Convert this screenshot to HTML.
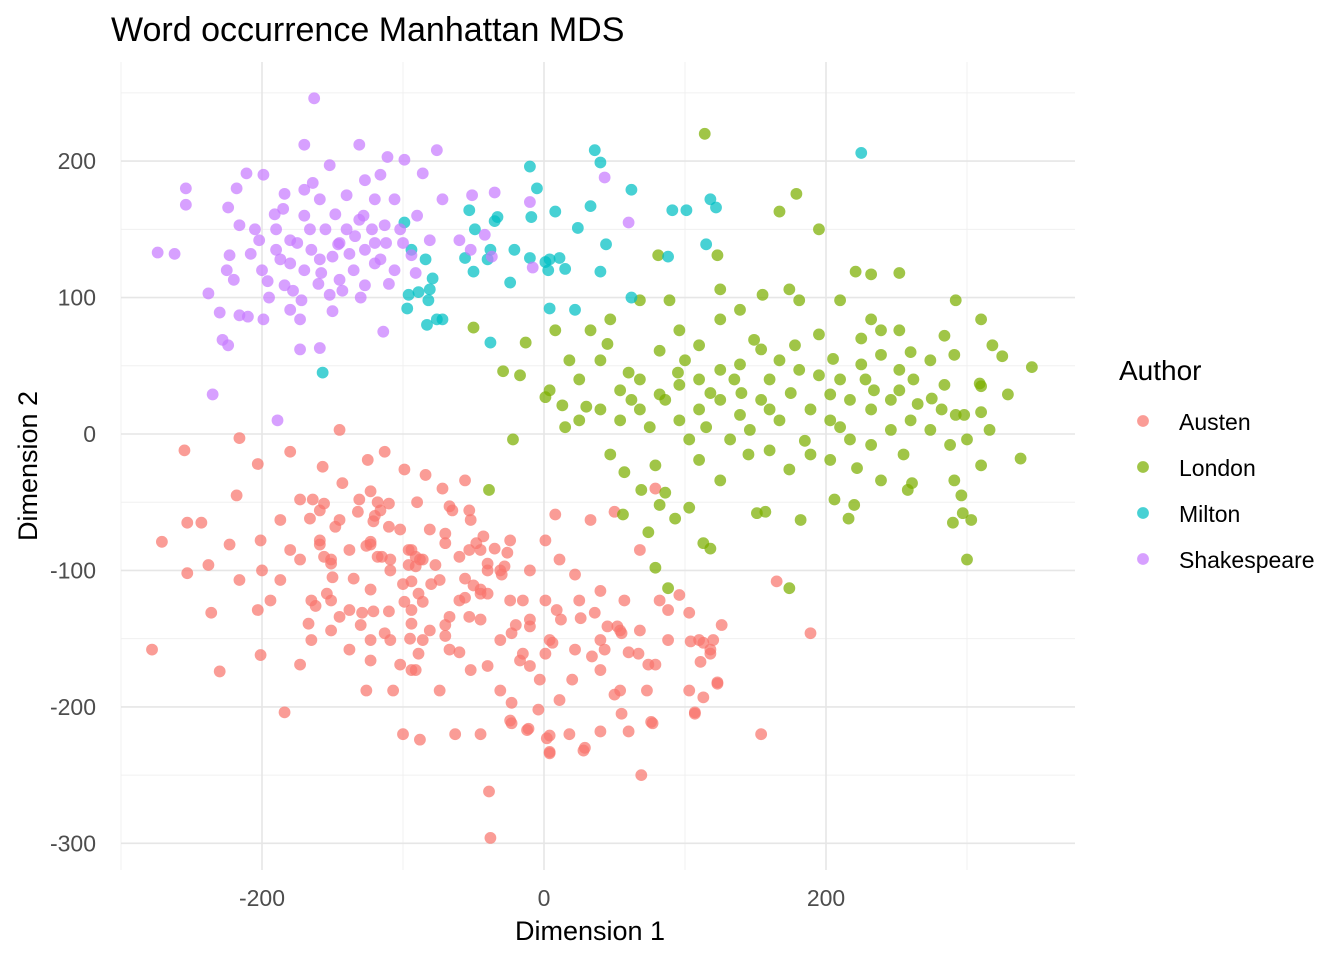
<!DOCTYPE html>
<html><head><meta charset="utf-8"><style>
html,body{margin:0;padding:0;background:#fff;}
svg{display:block;font-family:"Liberation Sans",Arial,sans-serif;}
</style></head><body>
<svg id="chart" width="1344" height="960" viewBox="0 0 1344 960" xmlns="http://www.w3.org/2000/svg">
<rect width="1344" height="960" fill="#fff"/>
<g id="grid"></g>
<g id="points"></g>
<g id="axes"></g>
<text x="111" y="41" font-size="34" fill="#000">Word occurrence Manhattan MDS</text>
<text x="590" y="940" font-size="27" text-anchor="middle" fill="#000">Dimension 1</text>
<text transform="translate(37,466) rotate(-90)" font-size="27" text-anchor="middle" fill="#000">Dimension 2</text>
<g id="legend">
<text x="1119" y="380" font-size="28" fill="#000">Author</text>
</g>
</svg>
<script>
const xTicks = [-200, 0, 200];
const yTicks = [200, 100, 0, -100, -200, -300];
const xMinor = [-300, -100, 100, 300];
const yMinor = [250, 150, 50, -50, -150, -250];
const authors = ["Austen", "London", "Milton", "Shakespeare"];
const colors = ["#F8766D", "#7CAE00", "#00BFC4", "#C77CFF"];

const shakespeare = [[-163,246],[-274,133],[-262,132],[-254,180],[-254,168],[-238,103],[-235,29],[-189,10],[-230,89],[-228,69],[-224,65],[-218,180],[-211,191],[-224,166],[-216,153],[-223,131],[-220,113],[-216,87],[-210,86],[-199,84],[-202,142],[-199,190],[-191,161],[-184,176],[-180,142],[-187,128],[-184,109],[-180,91],[-173,84],[-170,212],[-164,184],[-159,172],[-166,150],[-159,128],[-170,120],[-173,62],[-159,63],[-152,197],[-148,161],[-146,139],[-145,113],[-152,102],[-131,212],[-127,186],[-131,157],[-127,135],[-127,109],[-120,172],[-116,190],[-113,153],[-116,128],[-114,75],[-111,203],[-99,201],[-106,172],[-102,150],[-94,131],[-91,118],[-86,191],[-76,208],[-81,142],[-72,172],[-60,142],[-51,175],[-35,177],[-37,130],[-42,146],[-52,135],[-10,170],[-8,122],[43,188],[60,155],[-170,179],[-190,150],[-150,130],[-140,150],[-120,140],[-200,120],[-160,110],[-130,100],[-110,110],[-180,125],[-170,160],[-140,175],[-100,140],[-90,160],[-205,150],[-150,90],[-195,100],[-225,120],[-135,120],[-145,140],[-175,140],[-155,150],[-120,125],[-190,135],[-165,135],[-138,132],[-122,150],[-158,118],[-178,105],[-208,132],[-185,165],[-112,140],[-143,105],[-128,160],[-196,112],[-172,98],[-106,120],[-134,145]];
const milton = [[36,208],[40,199],[-10,196],[-5,180],[8,163],[-9,159],[-33,159],[-35,156],[-49,150],[-53,164],[33,167],[24,151],[44,139],[62,179],[91,164],[101,164],[118,172],[122,166],[115,139],[88,130],[62,100],[22,91],[4,92],[-10,129],[1,126],[4,128],[11,129],[15,121],[40,119],[3,120],[-24,111],[-21,135],[-50,119],[-38,135],[-40,128],[-99,155],[-94,135],[-96,102],[-89,104],[-81,106],[-82,98],[-83,80],[-72,84],[-76,84],[-84,128],[-79,114],[-97,92],[-38,67],[-157,45],[225,206],[-56,129]];
const london = [[114,220],[179,176],[167,163],[195,150],[81,131],[123,131],[221,119],[232,117],[252,118],[-50,78],[-29,46],[-22,-4],[-39,-41],[-13,67],[-17,43],[4,32],[13,21],[40,18],[54,32],[68,40],[82,61],[96,76],[110,65],[125,84],[139,91],[155,102],[174,106],[181,98],[210,98],[232,84],[239,76],[252,76],[284,72],[292,98],[310,84],[318,65],[325,57],[346,49],[329,29],[310,35],[310,16],[292,14],[282,18],[275,26],[262,40],[252,47],[239,58],[225,51],[210,40],[195,43],[181,47],[167,54],[154,62],[139,51],[125,47],[110,40],[96,36],[82,29],[68,18],[54,10],[47,-15],[57,-28],[69,-41],[79,-23],[86,-43],[82,-52],[74,-72],[79,-98],[88,-113],[56,-59],[93,-62],[103,-54],[113,-80],[118,-84],[151,-58],[157,-57],[182,-63],[174,-113],[216,-62],[206,-48],[220,-52],[239,-34],[258,-41],[261,-36],[290,-65],[303,-63],[297,-58],[296,-45],[291,-34],[300,-92],[310,-23],[300,-4],[316,3],[338,-18],[125,-34],[110,-19],[103,-4],[132,-4],[146,3],[160,-12],[174,-26],[189,-15],[203,-19],[217,-4],[232,-8],[246,3],[260,10],[274,3],[288,-8],[189,18],[203,10],[167,10],[154,25],[139,14],[125,25],[110,18],[96,10],[160,40],[217,25],[232,18],[246,25],[40,54],[25,40],[18,54],[8,76],[33,76],[68,98],[47,84],[89,98],[125,106],[1,27],[25,10],[86,25],[100,54],[149,69],[195,73],[274,54],[291,58],[284,36],[298,14],[309,37],[203,29],[252,32],[234,32],[175,30],[140,30],[260,60],[225,70],[60,45],[115,5],[185,-5],[205,55],[30,20],[75,5],[118,30],[95,45],[145,-15],[210,5],[228,40],[265,22],[178,65],[62,25],[15,5],[255,-15],[222,-25],[160,18],[135,40],[45,66]];
const austen = [[-145,3],[-216,-3],[-255,-12],[-203,-22],[-180,-13],[-113,-13],[-125,-19],[-157,-24],[-143,-36],[-99,-26],[-84,-30],[-72,-40],[-56,-34],[-218,-45],[-253,-65],[-243,-65],[-271,-79],[-253,-102],[-238,-96],[-236,-131],[-230,-174],[-278,-158],[-203,-129],[-201,-162],[-184,-204],[-173,-169],[-165,-151],[-151,-122],[-138,-158],[-126,-188],[-107,-188],[-100,-220],[-88,-224],[-63,-220],[-45,-220],[-39,-262],[-38,-296],[-24,-210],[-11,-216],[2,-223],[4,-233],[29,-230],[18,-220],[40,-218],[60,-218],[69,-250],[76,-211],[107,-204],[154,-220],[189,-146],[165,-108],[123,-182],[118,-158],[126,-140],[103,-131],[96,-118],[88,-129],[79,-40],[68,-85],[50,-57],[33,-63],[8,-59],[1,-78],[11,-92],[22,-103],[40,-115],[57,-122],[68,-144],[79,-169],[54,-188],[40,-173],[22,-158],[4,-151],[-10,-136],[-24,-122],[-31,-100],[-45,-85],[-52,-63],[-65,-56],[-81,-70],[-94,-85],[-109,-100],[-123,-114],[-138,-129],[-151,-144],[-165,-122],[-173,-92],[-159,-78],[-145,-63],[-131,-48],[-116,-56],[-102,-70],[-88,-92],[-74,-107],[-60,-122],[-45,-136],[-31,-151],[-17,-166],[-3,-180],[11,-195],[-31,-188],[-52,-173],[-67,-158],[-81,-144],[-94,-129],[-109,-151],[-123,-166],[-94,-173],[-74,-188],[-187,-107],[-201,-78],[-187,-63],[-173,-48],[-194,-122],[-216,-107],[-223,-81],[-24,-78],[-10,-100],[-45,-114],[40,-151],[54,-144],[25,-122],[82,-122],[110,-151],[103,-188],[-138,-85],[-123,-81],[-151,-92],[-159,-56],[-110,-130],[-130,-140],[-80,-110],[-60,-90],[-40,-100],[-20,-140],[-70,-140],[-100,-110],[-150,-105],[-120,-60],[-90,-50],[-60,-160],[-40,-170],[-10,-170],[20,-180],[60,-160],[-180,-85],[-200,-100],[-115,-90],[-95,-150],
[-159,-81],[-156,-90],[-151,-95],[-148,-68],[-126,-82],[-123,-79],[-118,-90],[-109,-92],[-96,-85],[-91,-90],[-86,-92],[-96,-96],[-94,-108],[-89,-117],[-86,-123],[-99,-123],[-94,-139],[-86,-151],[-89,-161],[-102,-169],[-91,-173],[-70,-148],[-67,-134],[-53,-134],[-45,-117],[-40,-117],[-56,-120],[-56,-106],[-50,-111],[-30,-103],[-28,-97],[-26,-87],[-40,-95],[-35,-84],[-53,-85],[-48,-80],[-43,-75],[-53,-56],[-67,-53],[-70,-73],[-70,-80],[-77,-96],[-91,-97],[-110,-68],[-121,-64],[-118,-50],[-110,-51],[-123,-42],[-132,-57],[-156,-51],[-164,-48],[-166,-62],[-135,-106],[-129,-131],[-121,-130],[-113,-146],[-123,-151],[-145,-134],[-154,-117],[-162,-126],[-167,-139],[-15,-122],[-23,-146],[-10,-141],[-15,-161],[1,-161],[6,-153],[1,-122],[9,-129],[12,-136],[26,-135],[36,-131],[45,-141],[52,-141],[55,-146],[34,-163],[43,-158],[67,-161],[74,-169],[88,-151],[104,-152],[113,-153],[120,-151],[118,-161],[111,-167],[123,-183],[113,-193],[107,-205],[77,-212],[55,-205],[50,-191],[73,-188],[28,-232],[4,-234],[4,-221],[-12,-217],[-23,-212],[-23,-197],[-4,-202]];
const seriesData = [austen, london, milton, shakespeare];

const NS = "http://www.w3.org/2000/svg";
const L = 121, R = 1075, T = 62, B = 870;
function xScale(v){ return 544 + v * 1.41; }
function yScale(v){ return 434 - v * 1.3645; }
function mk(tag, attrs, parent){
  const e = document.createElementNS(NS, tag);
  for (const k in attrs) e.setAttribute(k, attrs[k]);
  parent.appendChild(e);
  return e;
}
const grid = document.getElementById("grid");
xMinor.forEach(v => {
  const l = mk("line", {x1:xScale(v), x2:xScale(v), y1:T, y2:B, stroke:"#f0f0f0", "stroke-width":1}, grid);
  
  
});
yMinor.forEach(v => {
  const l = mk("line", {x1:L, x2:R, y1:yScale(v), y2:yScale(v), stroke:"#f0f0f0", "stroke-width":1}, grid);
  
  
});
xTicks.forEach(v => {
  const l = mk("line", {x1:xScale(v), x2:xScale(v), y1:T, y2:B, stroke:"#e6e6e6", "stroke-width":1.6}, grid);
  
  
});
yTicks.forEach(v => {
  const l = mk("line", {x1:L, x2:R, y1:yScale(v), y2:yScale(v), stroke:"#e6e6e6", "stroke-width":1.6}, grid);
  
  
});
const axes = document.getElementById("axes");
xTicks.forEach(v => {
  const t = mk("text", {x:xScale(v), y:906, "font-size":23, fill:"#4d4d4d", "text-anchor":"middle"}, axes);
  t.textContent = v;
  
  
});
yTicks.forEach(v => {
  const t = mk("text", {x:96, y:yScale(v)+8, "font-size":23, fill:"#4d4d4d", "text-anchor":"end"}, axes);
  t.textContent = v;
  
  
});
const pts = document.getElementById("points");
seriesData.forEach((arr, i) => {
  arr.forEach(p => {
    const c = mk("circle", {cx:xScale(p[0]), cy:yScale(p[1]), r:5.9, fill:colors[i], "fill-opacity":0.72}, pts);
    
    
  });
});
const legend = document.getElementById("legend");
authors.forEach((a, i) => {
  const y = 421 + i * 46;
  const c = mk("circle", {cx:1143, cy:y, r:5.9, fill:colors[i], "fill-opacity":0.72}, legend);
  
  
  const t = mk("text", {x:1179, y:y+9, "font-size":23, fill:"#000"}, legend);
  t.textContent = a;
  
  
});
</script>
</body></html>
